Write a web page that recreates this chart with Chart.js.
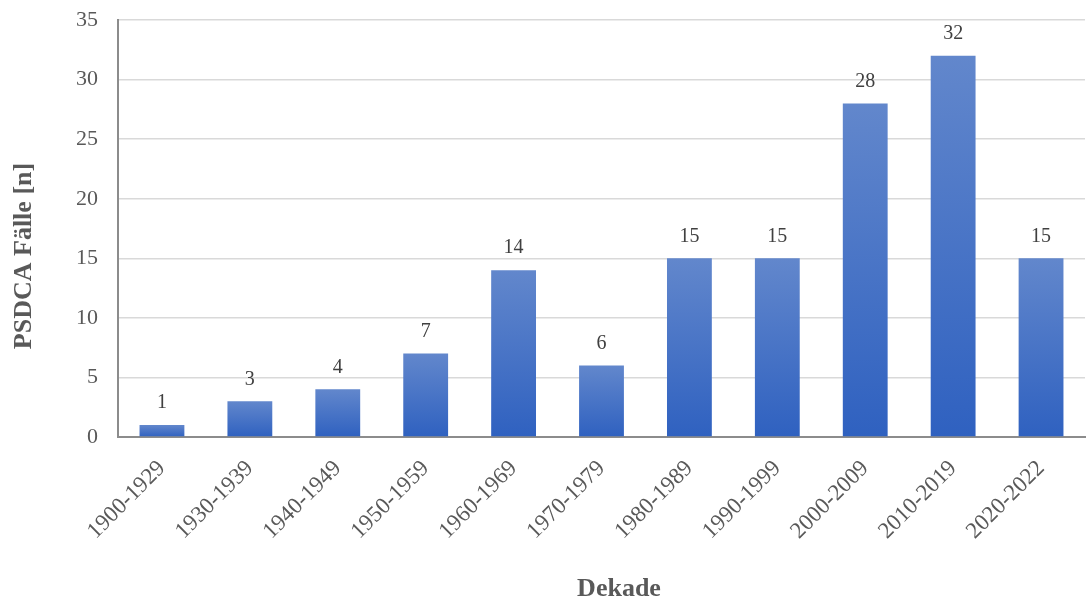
<!DOCTYPE html>
<html>
<head>
<meta charset="utf-8">
<script src="https://cdn.jsdelivr.net/npm/chart.js@4.4.1/dist/chart.umd.min.js"></script>
<style>
  html, body { margin: 0; padding: 0; background: #fff; }
  .chart-container { width: 1086px; height: 604px; }
</style>
</head>
<body>
<div class="chart-container">
  <canvas id="psdcaChart"></canvas>
</div>
<script>
const decades = ["1900-1929", "1930-1939", "1940-1949", "1950-1959", "1960-1969",
  "1970-1979", "1980-1989", "1990-1999", "2000-2009", "2010-2019", "2020-2022"];
const cases = [1, 3, 4, 7, 14, 6, 15, 15, 28, 32, 15];
const yTicks = [0, 5, 10, 15, 20, 25, 30, 35];

const serif = "'Liberation Serif', 'Times New Roman', serif";

// vertical gradient per bar: lighter at the top, darker at the base
function barGradient(ctx) {
  const chart = ctx.chart;
  const y = chart.scales && chart.scales.y;
  if (!y || ctx.type !== "data") return "#4a72c6";
  const top = y.getPixelForValue(ctx.raw);
  const base = y.getPixelForValue(0);
  if (!isFinite(top) || !isFinite(base) || top === base) return "#4a72c6";
  const g = chart.ctx.createLinearGradient(0, top, 0, base);
  g.addColorStop(0, "#6287cc");
  g.addColorStop(1, "#2f61c0");
  return g;
}

// value labels above each bar
const valueLabels = {
  id: "valueLabels",
  afterDatasetsDraw(chart) {
    const ctx = chart.ctx;
    const meta = chart.getDatasetMeta(0);
    ctx.save();
    ctx.font = "20px " + serif;
    ctx.fillStyle = "#404040";
    ctx.textAlign = "center";
    ctx.textBaseline = "bottom";
    meta.data.forEach((bar, i) => {
      ctx.fillText(String(cases[i]), bar.x, bar.y - 12);
    });
    ctx.restore();
  }
};

// axis titles, placed in the padding around the plot
const axisTitles = {
  id: "axisTitles",
  afterDraw(chart) {
    const ctx = chart.ctx;
    ctx.save();
    ctx.font = "bold 26px " + serif;
    ctx.fillStyle = "#595959";
    ctx.textAlign = "center";
    ctx.textBaseline = "middle";
    ctx.fillText("Dekade", 619, 589);
    ctx.translate(24, 256);
    ctx.rotate(-Math.PI / 2);
    ctx.fillText("PSDCA Fälle [n]", 0, 0);
    ctx.restore();
  }
};

new Chart(document.getElementById("psdcaChart").getContext("2d"), {
  type: "bar",
  data: {
    labels: decades,
    datasets: [{
      label: "PSDCA Fälle",
      data: cases,
      backgroundColor: barGradient,
      borderWidth: 0,
      barPercentage: 0.51,
      categoryPercentage: 1.0
    }]
  },
  options: {
    responsive: true,
    maintainAspectRatio: false,
    animation: false,
    layout: { padding: { top: 20, right: 1, left: 56, bottom: 41 } },
    plugins: {
      legend: { display: false },
      tooltip: { enabled: false }
    },
    scales: {
      x: {
        grid: { display: false, drawTicks: false },
        border: { color: "#8c8c8c", width: 2 },
        ticks: {
          color: "#595959",
          font: { family: serif, size: 23 },
          minRotation: 45,
          maxRotation: 45,
          padding: 18
        }
      },
      y: {
        min: 0,
        max: 35,
        afterBuildTicks(axis) {
          axis.ticks = yTicks.map(v => ({ value: v }));
        },
        afterFit(axis) {
          // let the layout padding alone decide where the plot starts
          axis.paddingTop = 0;
          axis.paddingBottom = 0;
        },
        grid: { color: "#d9d9d9", lineWidth: 1.5, drawTicks: false },
        border: { color: "#8c8c8c", width: 2 },
        ticks: {
          color: "#595959",
          font: { family: serif, size: 22 },
          padding: 20
        }
      }
    }
  },
  plugins: [valueLabels, axisTitles]
});
</script>
</body>
</html>
